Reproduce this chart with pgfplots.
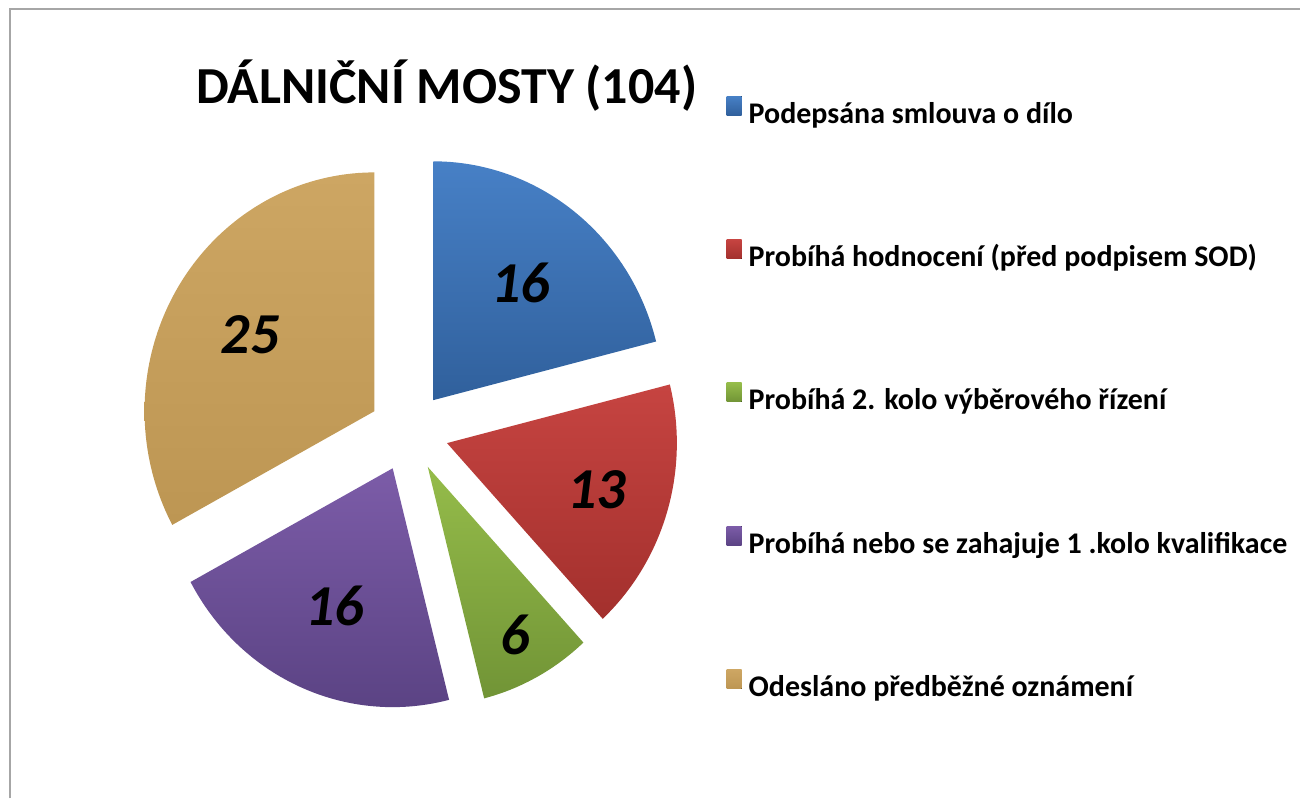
\documentclass[border=0pt]{standalone}
\usepackage{fontspec}
\setmainfont{Carlito}
\usepackage{pgfplots}
\usepackage{pgfplotstable}
\pgfplotsset{compat=1.18}

\definecolor{blueT}{HTML}{4780C6}\definecolor{blueB}{HTML}{30609C}
\definecolor{redT}{HTML}{C64441}\definecolor{redB}{HTML}{A3302D}
\definecolor{greenT}{HTML}{95BC4A}\definecolor{greenB}{HTML}{719436}
\definecolor{purpleT}{HTML}{7C5CA8}\definecolor{purpleB}{HTML}{5B4384}
\definecolor{tanT}{HTML}{CDA663}\definecolor{tanB}{HTML}{BD9653}

% value, colours, label distance (fraction of radius)
\pgfplotstableread[col sep=comma]{
value,ct,cb,lf
16,blueT,blueB,0.62
13,redT,redB,0.68
6,greenT,greenB,0.80
16,purpleT,purpleB,0.63
25,tanT,tanB,0.63
}\piedata

\pgfplotstablegetrowsof{\piedata}
\pgfmathtruncatemacro\nrows{\pgfplotsretval-1}
\def\total{0}
\pgfplotsforeachungrouped \i in {0,...,\nrows}{%
  \pgfplotstablegetelem{\i}{value}\of\piedata
  \pgfmathsetmacro\total{\total+\pgfplotsretval}}
\pgfmathsetmacro\kdeg{360/\total}

\tikzset{numlbl/.style={font=\bfseries\itshape\fontsize{58}{60}\selectfont, inner sep=0pt}}

\begin{document}
\begin{tikzpicture}
\begin{axis}[
  width=1301pt, height=799pt, scale only axis,
  xmin=0, xmax=1301, ymin=0, ymax=799,
  hide axis, clip=false,
  legend cell align=left,
  legend image code/.code={\fill[#1] (0pt,0pt) rectangle (15pt,19pt);},
  legend style={draw=none, fill=none, at={(0.5588,0.8798)}, anchor=north west,
    inner sep=0pt, row sep=108.5pt, column sep=7pt,
    font=\bfseries\fontsize{30}{32}\selectfont,
    nodes={inner sep=0pt, text depth=8pt, text height=24pt}},
]
\path (axis cs:0,0) rectangle (axis cs:1301,799);
\def\cum{0}
\pgfplotsforeachungrouped \i in {0,...,\nrows}{%
  \pgfplotstablegetelem{\i}{value}\of\piedata \let\sV\pgfplotsretval
  \pgfplotstablegetelem{\i}{ct}\of\piedata \let\colT\pgfplotsretval
  \pgfplotstablegetelem{\i}{cb}\of\piedata \let\colB\pgfplotsretval
  \pgfplotstablegetelem{\i}{lf}\of\piedata \let\lfr\pgfplotsretval
  \pgfmathsetmacro\sA{\cum}%
  \pgfmathsetmacro\sB{\cum+\sV}%
  \pgfmathsetmacro\midang{90-(\sA+\sB)/2*\kdeg}%
  \pgfmathsetmacro\vx{409+40*cos(\midang)}%
  \pgfmathsetmacro\vy{367+40*sin(\midang)}%
  \pgfmathsetmacro\lx{\vx+\lfr*230*cos(\midang)}%
  \pgfmathsetmacro\ly{\vy+\lfr*239*sin(\midang)}%
  \edef\doslice{%
    \noexpand\addplot[draw=none, top color=\colT, bottom color=\colB,
      domain=\sA:\sB, samples=90, variable=\noexpand\t]
      ({\vx+230*cos(90-\noexpand\t*\kdeg)},{\vy+239*sin(90-\noexpand\t*\kdeg)})
      -- (axis cs:\vx,\vy) -- cycle;
    \noexpand\node[numlbl] at (axis cs:\lx,\ly) {\sV};
  }%
  \doslice
  \let\cum\sB
}
\legend{Podepsána smlouva o dílo,Probíhá hodnocení (před podpisem SOD),Probíhá 2. kolo výběrového řízení,Probíhá nebo se zahajuje 1 .kolo kvalifikace,Odesláno předběžné oznámení}

\node[font=\bfseries\fontsize{52}{56}\selectfont, anchor=base] at (axis cs:447,695) {DÁLNIČNÍ MOSTY (104)};
\draw[color=black!35, line width=1.8pt] (axis cs:10,0) -- (axis cs:10,790) -- (axis cs:1301,790);
\end{axis}
\end{tikzpicture}
\end{document}
